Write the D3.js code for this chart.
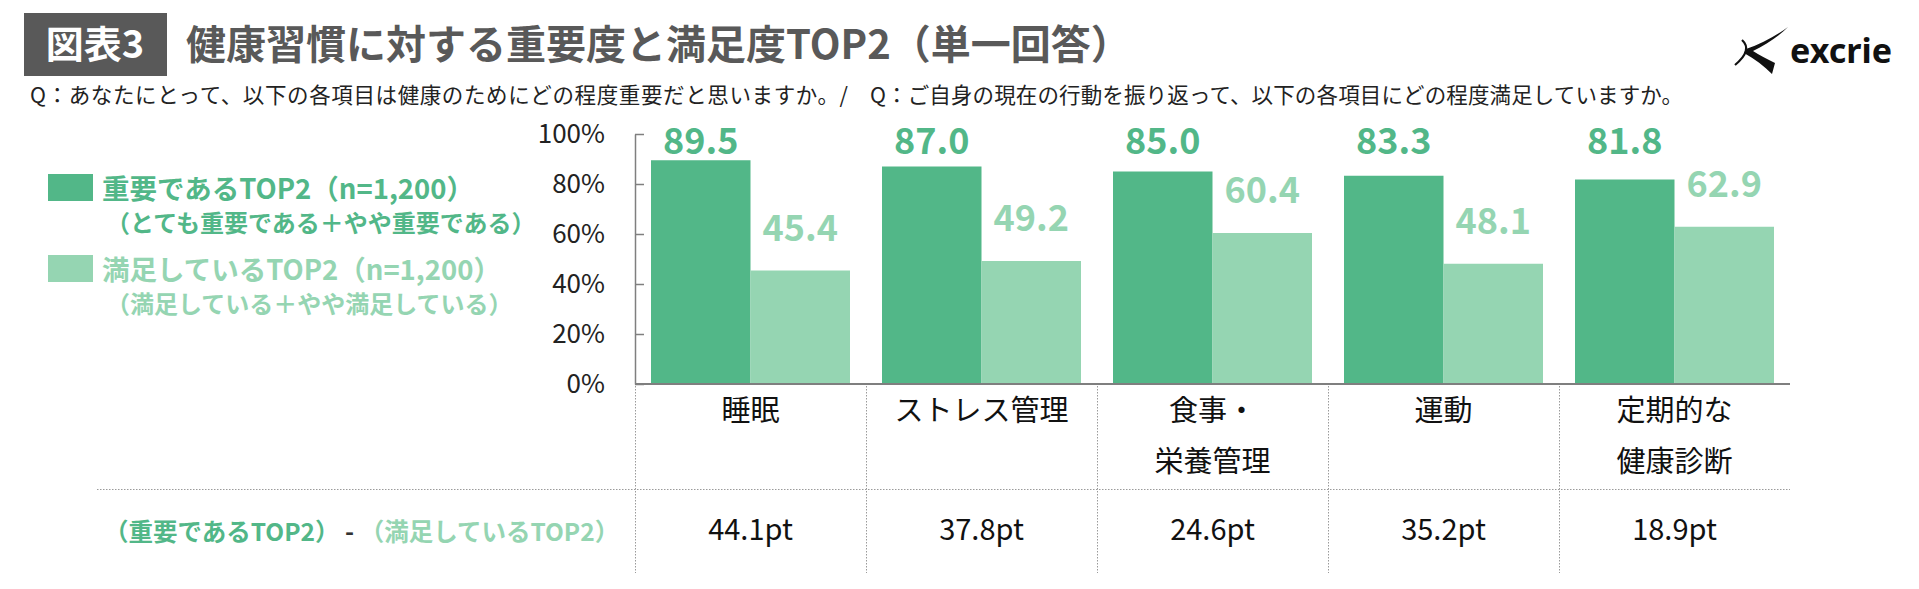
<!DOCTYPE html>
<html>
<head>
<meta charset="utf-8">
<script src="https://cdn.jsdelivr.net/npm/d3@7"></script>
<style>
  body { margin: 0; background: #fff; }
  svg { display: block; font-family: "Noto Sans CJK JP", "Noto Sans", sans-serif; }
</style>
</head>
<body>
<div id="chart"></div>
<script>
// data
const categories = [["睡眠"], ["ストレス管理"], ["食事・", "栄養管理"], ["運動"], ["定期的な", "健康診断"]];
const important = [89.5, 87.0, 85.0, 83.3, 81.8];
const satisfied = [45.4, 49.2, 60.4, 48.1, 62.9];
const gapLabels = ["44.1pt", "37.8pt", "24.6pt", "35.2pt", "18.9pt"];
const yTicks = [0, 20, 40, 60, 80, 100];

const W = 1919, H = 589;
const dark = "#52b788", light = "#95d5b2";

const svg = d3.select("#chart").append("svg")
  .attr("width", W).attr("height", H);

// title block
svg.append("rect").attr("x", 24).attr("y", 13).attr("width", 143).attr("height", 63).attr("fill", "#595959");
svg.append("text").attr("x", 95).attr("y", 58).attr("text-anchor", "middle")
  .attr("fill", "#fff").attr("font-size", 38).attr("font-weight", 700).text("図表3");
svg.append("text").attr("x", 186).attr("y", 59)
  .attr("fill", "#595959").attr("font-size", 40).attr("font-weight", 700)
  .text("健康習慣に対する重要度と満足度TOP2（単一回答）");

// question line, two halves
svg.append("text").attr("x", 30).attr("y", 103)
  .attr("fill", "#222").attr("font-size", 21.5)
  .attr("textLength", 818).attr("lengthAdjust", "spacing")
  .text("Q：あなたにとって、以下の各項目は健康のためにどの程度重要だと思いますか。/");
svg.append("text").attr("x", 870).attr("y", 103)
  .attr("fill", "#222").attr("font-size", 21.5)
  .attr("textLength", 813).attr("lengthAdjust", "spacing")
  .text("Q：ご自身の現在の行動を振り返って、以下の各項目にどの程度満足していますか。");

// logo
const logo = svg.append("g");
logo.append("path")
  .attr("d", "M1788,27 C1776,36 1761,44 1746,49 L1744,53 C1755,59 1764,66 1772,74 L1775,63 C1767,59 1759,55 1753,51 C1765,45 1778,37 1788,27 Z")
  .attr("fill", "#111");
logo.append("path")
  .attr("d", "M1742,40 Q1753,50 1735,65")
  .attr("fill", "none").attr("stroke", "#111").attr("stroke-width", 2.2);
logo.append("text").attr("x", 1790).attr("y", 63)
  .attr("font-family", "'Noto Sans', sans-serif").attr("font-size", 34).attr("font-weight", 700)
  .attr("textLength", 102).attr("lengthAdjust", "spacingAndGlyphs").attr("fill", "#111").text("excrie");

// legend
const legend = [
  { color: dark, main: "重要であるTOP2（n=1,200）", sub: "（とても重要である＋やや重要である）", y: 174 },
  { color: light, main: "満足しているTOP2（n=1,200）", sub: "（満足している＋やや満足している）", y: 255 }
];
const lg = svg.append("g").selectAll("g").data(legend).join("g");
lg.append("rect").attr("x", 48).attr("y", d => d.y).attr("width", 45).attr("height", 27).attr("fill", d => d.color);
lg.append("text").attr("x", 102).attr("y", d => d.y + 25)
  .attr("fill", d => d.color).attr("font-size", 27.5).attr("font-weight", 700).text(d => d.main);
lg.append("text").attr("x", 106).attr("y", d => d.y + 58)
  .attr("fill", d => d.color).attr("font-size", 24).attr("font-weight", 700).text(d => d.sub);

// scales
const x0 = d3.scaleBand().domain(d3.range(categories.length)).range([635, 1790]);
const x1 = d3.scaleBand().domain(["imp", "sat"]).range([16, x0.bandwidth() - 16]);
const y = d3.scaleLinear().domain([0, 100]).range([384, 134]);

// y axis
const yAxis = svg.append("g").attr("transform", "translate(635,0)")
  .call(d3.axisLeft(y).tickValues(yTicks).tickFormat(d => d + "%")
    .tickSizeInner(-9).tickSizeOuter(0).tickPadding(30));
yAxis.select(".domain").attr("stroke", "#7f7f7f").attr("stroke-width", 1.5);
yAxis.selectAll(".tick line").attr("stroke", "#7f7f7f").attr("stroke-width", 1.5);
yAxis.selectAll(".tick text").attr("font-size", 26).attr("fill", "#222")
  .attr("font-family", "'Noto Sans CJK JP', sans-serif");

// bars
const groups = svg.append("g").selectAll("g").data(categories).join("g")
  .attr("transform", (d, i) => `translate(${x0(i)},0)`);
groups.append("rect")
  .attr("x", x1("imp")).attr("width", x1.bandwidth())
  .attr("y", (d, i) => y(important[i])).attr("height", (d, i) => y(0) - y(important[i]))
  .attr("fill", dark);
groups.append("rect")
  .attr("x", x1("sat")).attr("width", x1.bandwidth())
  .attr("y", (d, i) => y(satisfied[i])).attr("height", (d, i) => y(0) - y(satisfied[i]))
  .attr("fill", light);

// value labels
groups.append("text")
  .attr("x", x1("imp") + x1.bandwidth() / 2).attr("y", 154)
  .attr("text-anchor", "middle").attr("font-size", 36).attr("font-weight", 700).attr("fill", dark)
  .text((d, i) => important[i].toFixed(1));
groups.append("text")
  .attr("x", x1("sat") + x1.bandwidth() / 2).attr("y", (d, i) => y(satisfied[i]) - 30)
  .attr("text-anchor", "middle").attr("font-size", 36).attr("font-weight", 700).attr("fill", light)
  .text((d, i) => satisfied[i].toFixed(1));

// baseline
svg.append("line").attr("x1", 635).attr("x2", 1790).attr("y1", y(0)).attr("y2", y(0))
  .attr("stroke", "#7f7f7f").attr("stroke-width", 2);

// table grid
const grid = svg.append("g").attr("stroke", "#9a9a9a").attr("stroke-width", 1).attr("stroke-dasharray", "1.5,1.5");
grid.selectAll("line.v").data(d3.range(categories.length)).join("line")
  .attr("x1", i => x0(i) + 0.5).attr("x2", i => x0(i) + 0.5)
  .attr("y1", y(0) + 2).attr("y2", 573);
grid.append("line").attr("x1", 97).attr("x2", 1790).attr("y1", 489.5).attr("y2", 489.5);

// category labels
groups.each(function(lines) {
  const g = d3.select(this);
  lines.forEach((t, k) => {
    g.append("text").attr("x", x0.bandwidth() / 2).attr("y", 421 + k * 51)
      .attr("text-anchor", "middle").attr("font-size", 29).attr("fill", "#111").text(t);
  });
});

// gap row
groups.append("text")
  .attr("x", x0.bandwidth() / 2).attr("y", 540)
  .attr("text-anchor", "middle").attr("font-size", 29).attr("fill", "#111")
  .text((d, i) => gapLabels[i]);

const rowLabel = svg.append("text").attr("x", 104).attr("y", 541)
  .attr("font-size", 24.5).attr("font-weight", 700);
rowLabel.append("tspan").attr("fill", dark).text("（重要であるTOP2）");
rowLabel.append("tspan").attr("fill", "#333").text(" - ");
rowLabel.append("tspan").attr("fill", light).text("（満足しているTOP2）");
</script>
</body>
</html>
